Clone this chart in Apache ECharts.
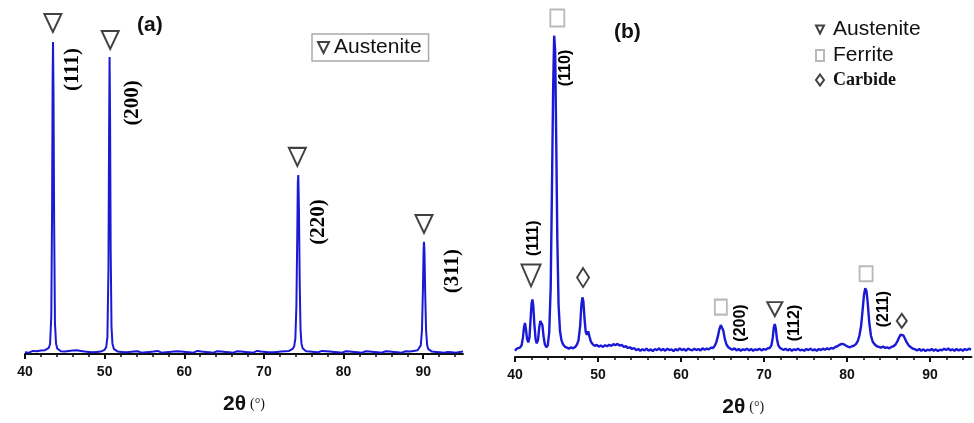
<!DOCTYPE html>
<html>
<head>
<meta charset="utf-8">
<script src="https://cdn.jsdelivr.net/npm/echarts@6/dist/echarts.min.js"></script>
<style>html,body{margin:0;padding:0;background:#fff}#c{width:974px;height:423px}</style>
</head>
<body>
<div id="c"></div>
<script>
// ---------- DATA ----------
const majorTicks = [40, 50, 60, 70, 80, 90];
const minorTicks = [42, 44, 46, 48, 52, 54, 56, 58, 62, 64, 66, 68, 72, 74, 76, 78, 82, 84, 86, 88, 92, 94];

// Panel (a): [2theta, intensity]
const specA = [
[40.0,5],[40.25,8],[40.5,4],[40.75,7],[41.0,9],[41.25,5],[41.5,8],[41.75,6],[42.0,10],[42.25,7],[42.5,11],[42.75,13],
[43.0,18],[43.15,30],[43.3,110],[43.4,420],[43.47,800],[43.52,907],[43.58,760],[43.66,380],[43.76,90],[43.9,30],[44.05,16],
[44.25,11],[44.5,8],[44.75,10],[45.0,7],[45.25,11],[45.5,9],[45.75,12],[46.0,10],[46.25,14],[46.5,11],[46.75,13],[47.0,9],
[47.25,11],[47.5,7],[47.75,9],[48.0,6],[48.25,8],[48.5,5],[48.75,9],[49.0,6],[49.25,8],[49.5,7],[49.75,10],[50.0,12],
[50.2,20],[50.35,50],[50.48,250],[50.56,650],[50.62,863],[50.68,700],[50.76,300],[50.86,80],[50.98,30],[51.15,15],[51.4,10],
[51.65,7],[51.9,9],[52.15,6],[52.4,8],[52.65,5],[52.9,8],[53.15,6],[53.4,4],[53.65,7],[53.9,5],[54.15,8],[54.4,6],[54.65,4],
[54.9,7],[55.15,5],[55.4,8],[55.65,6],[55.9,4],[56.15,7],[56.4,5],[56.65,9],[56.9,6],[57.15,4],[57.4,7],[57.65,5],[57.9,8],
[58.15,6],[58.4,4],[58.65,7],[58.9,5],[59.15,8],[59.4,5],[59.65,7],[59.9,4],[60.15,6],[60.4,8],[60.65,5],[60.9,7],[61.15,4],
[61.4,6],[61.65,9],[61.9,5],[62.15,7],[62.4,4],[62.65,6],[62.9,8],[63.15,5],[63.4,7],[63.65,4],[63.9,6],[64.15,8],[64.4,5],
[64.65,7],[64.9,4],[65.15,6],[65.4,9],[65.65,5],[65.9,7],[66.15,4],[66.4,6],[66.65,8],[66.9,5],[67.15,7],[67.4,4],[67.65,6],
[67.9,8],[68.15,5],[68.4,7],[68.65,4],[68.9,6],[69.15,9],[69.4,5],[69.65,7],[69.9,4],[70.15,6],[70.4,8],[70.65,5],[70.9,7],
[71.15,5],[71.4,8],[71.65,6],[71.9,9],[72.15,7],[72.4,10],[72.65,8],[72.9,11],[73.15,9],[73.4,12],[73.6,15],[73.8,22],
[73.95,45],[74.08,140],[74.18,330],[74.26,500],[74.32,520],[74.4,420],[74.5,200],[74.6,70],[74.72,30],[74.88,16],[75.05,11],
[75.3,8],[75.55,10],[75.8,7],[76.05,9],[76.3,6],[76.55,8],[76.8,5],[77.05,7],[77.3,9],[77.55,6],[77.8,8],[78.05,5],[78.3,7],
[78.55,4],[78.8,6],[79.05,8],[79.3,5],[79.55,7],[79.8,4],[80.05,6],[80.3,8],[80.55,5],[80.8,7],[81.05,4],[81.3,6],[81.55,9],
[81.8,5],[82.05,7],[82.3,4],[82.55,6],[82.8,8],[83.05,5],[83.3,7],[83.55,4],[83.8,6],[84.05,9],[84.3,5],[84.55,7],[84.8,4],
[85.05,6],[85.3,8],[85.55,5],[85.8,7],[86.05,4],[86.3,6],[86.55,9],[86.8,5],[87.05,7],[87.3,4],[87.55,6],[87.8,8],[88.05,5],
[88.3,7],[88.55,6],[88.8,9],[89.05,8],[89.3,11],[89.5,14],[89.7,25],[89.85,70],[89.97,190],[90.05,300],[90.1,326],[90.16,300],
[90.25,180],[90.36,70],[90.5,25],[90.65,14],[90.85,10],[91.1,7],[91.35,9],[91.6,6],[91.85,8],[92.1,5],[92.35,7],[92.6,4],
[92.85,8],[93.1,6],[93.35,9],[93.6,5],[93.85,7],[94.1,4],[94.35,8],[94.6,6],[94.85,9],[95.0,7]
];

// Panel (b): [2theta, intensity]
const specB = [
[40.0,18],[40.2,24],[40.4,20],[40.6,27],[40.8,34],[40.95,55],[41.08,85],[41.2,98],[41.32,80],[41.45,52],[41.6,42],[41.75,58],
[41.88,110],[42.0,155],[42.1,166],[42.2,148],[42.33,95],[42.48,52],[42.62,39],[42.78,50],[42.92,85],[43.05,104],[43.18,107],
[43.3,92],[43.45,58],[43.6,36],[43.78,28],[43.95,34],[44.12,70],[44.3,200],[44.45,480],[44.6,780],[44.72,926],[44.84,880],
[44.96,640],[45.1,340],[45.25,150],[45.42,75],[45.6,48],[45.8,36],[46.0,30],[46.25,27],[46.5,24],[46.75,28],[47.0,25],
[47.25,29],[47.45,35],[47.65,48],[47.85,90],[48.0,150],[48.12,172],[48.24,160],[48.38,110],[48.52,72],[48.66,64],[48.82,74],
[48.98,58],[49.15,44],[49.35,37],[49.6,32],[49.85,35],[50.1,30],[50.35,33],[50.6,29],[50.85,34],[51.1,31],[51.35,35],
[51.6,32],[51.85,37],[52.1,34],[52.35,38],[52.6,33],[52.85,35],[53.1,29],[53.35,31],[53.6,26],[53.85,28],[54.1,23],[54.35,26],
[54.6,20],[54.85,23],[55.1,18],[55.35,22],[55.6,19],[55.85,24],[56.1,18],[56.35,22],[56.6,17],[56.85,23],[57.1,20],[57.35,25],
[57.6,19],[57.85,23],[58.1,18],[58.35,24],[58.6,20],[58.85,22],[59.1,17],[59.35,23],[59.6,19],[59.85,25],[60.1,20],[60.35,23],
[60.6,18],[60.85,24],[61.1,21],[61.35,19],[61.6,24],[61.85,20],[62.1,23],[62.35,19],[62.6,25],[62.85,21],[63.1,24],[63.35,22],
[63.6,27],[63.85,26],[64.05,32],[64.25,42],[64.45,60],[64.62,80],[64.8,92],[64.95,90],[65.1,76],[65.28,52],[65.48,36],
[65.7,28],[65.95,24],[66.2,21],[66.45,25],[66.7,19],[66.95,23],[67.2,18],[67.45,22],[67.7,20],[67.95,24],[68.2,19],[68.45,23],
[68.7,18],[68.95,22],[69.2,20],[69.45,24],[69.7,19],[69.95,23],[70.2,21],[70.45,25],[70.7,26],[70.9,34],[71.05,55],[71.18,85],
[71.3,95],[71.42,82],[71.56,52],[71.72,34],[71.9,27],[72.1,23],[72.35,20],[72.6,24],[72.85,19],[73.1,23],[73.35,18],[73.6,22],
[73.85,20],[74.1,24],[74.35,19],[74.6,21],[74.85,18],[75.1,23],[75.35,20],[75.6,24],[75.85,19],[76.1,22],[76.35,18],[76.6,23],
[76.85,20],[77.1,24],[77.35,21],[77.6,25],[77.85,22],[78.1,26],[78.35,24],[78.6,29],[78.85,31],[79.1,35],[79.35,38],[79.6,37],
[79.85,33],[80.1,30],[80.35,28],[80.6,31],[80.85,33],[81.1,38],[81.3,46],[81.5,62],[81.7,90],[81.9,140],[82.05,180],[82.2,198],
[82.35,190],[82.5,155],[82.68,100],[82.88,62],[83.1,44],[83.35,36],[83.6,31],[83.85,29],[84.1,27],[84.35,30],[84.6,26],
[84.85,28],[85.1,25],[85.35,29],[85.6,31],[85.85,36],[86.05,44],[86.25,55],[86.45,64],[86.62,67],[86.8,62],[87.0,52],[87.2,42],
[87.45,33],[87.7,28],[87.95,24],[88.2,22],[88.45,19],[88.7,23],[88.95,18],[89.2,22],[89.45,17],[89.7,21],[89.95,19],[90.2,23],
[90.45,18],[90.7,22],[90.95,17],[91.2,21],[91.45,19],[91.7,24],[91.95,20],[92.2,25],[92.45,19],[92.7,22],[92.95,18],[93.2,23],
[93.45,19],[93.7,22],[93.95,18],[94.2,23],[94.45,20],[94.7,24],[94.95,21]
];

// Phase markers [2theta, height]
const austA = [[43.5,962],[50.7,913],[74.2,573],[90.1,378]];
const austB = [[41.93,235],[71.3,138]];
const ferB  = [[45.1,977],[64.8,144],[82.3,240]];
const carB  = [[48.2,229],[86.6,104]];
// hkl labels [2theta, height, text]
const hklA = [[45.97,827,'(111)'],[53.46,730,'(200)'],[76.9,384,'(220)'],[93.7,241,'(311)']];
const hklB = [[46.1,833,'(110)'],[42.2,342,'(111)'],[67.2,98,'(200)'],[73.7,98,'(112)'],[84.45,138,'(211)']];

// ---------- STYLE ----------
const BLUE = '#1a1ad6';
const TRI = 'path://M0,0L10,0L5,10Z';
const sizeAustA = [[17,18],[17,18],[17,18],[17,18]];
const sizeAustB = [[19,22],[15,14]];
const sizeFerB = [[14,17],[12,15],[13,15]];
const sizeCarB = [[12,19],[10,14]];
const SANS = 'Liberation Sans';
const SERIF = 'Liberation Serif';

function mainX(grid) {
  return {
    type: 'value', gridIndex: grid, position: 'bottom', min: 40, max: 95, interval: 10,
    axisLine: { show: true, lineStyle: { color: '#111', width: 2 } },
    axisTick: { show: true, inside: false, length: 5, customValues: majorTicks, lineStyle: { color: '#111', width: 2 } },
    axisLabel: { show: true, customValues: majorTicks, margin: 11,
      fontSize: 14, fontWeight: 'bold', fontFamily: SANS, color: '#111' },
    splitLine: { show: false },
    name: '{t|2θ} {u|(°)}', nameLocation: 'middle', nameGap: 40,
    nameTextStyle: { fontSize: 14, color: '#111', rich: {
      t: { fontSize: 21, fontWeight: 'bold', fontFamily: SANS, color: '#111' },
      u: { fontSize: 14, fontFamily: SERIF, color: '#111' } } }
  };
}
function minorX(grid) {
  return {
    type: 'value', gridIndex: grid, position: 'bottom', offset: 0, min: 40, max: 95, interval: 2,
    axisLine: { show: false, onZero: false },
    axisTick: { show: true, inside: false, length: 3, customValues: minorTicks, lineStyle: { color: '#111', width: 1.5 } },
    axisLabel: { show: false }, splitLine: { show: false }
  };
}
function yAx(grid) {
  return { type: 'value', gridIndex: grid, min: 0, max: 1000, show: false, splitLine: { show: false } };
}
function markerSeries(name, xi, yi, data, sizes, symbol, border) {
  return {
    name: name, type: 'scatter', xAxisIndex: xi, yAxisIndex: yi, data: data, clip: false,
    symbol: symbol, symbolKeepAspect: false,
    symbolSize: function (v, p) { return sizes[p.dataIndex]; },
    itemStyle: { color: 'rgba(255,255,255,0)', borderColor: border, borderWidth: 2 },
    z: 5, silent: true
  };
}
function hklSeries(xi, yi, data, font, size) {
  return {
    type: 'scatter', xAxisIndex: xi, yAxisIndex: yi, clip: false, silent: true,
    data: data, symbolSize: 0, itemStyle: { color: '#000', opacity: 1 },
    label: { show: true, position: 'inside', rotate: 90, formatter: function (p) { return p.data[2]; },
      fontFamily: font, fontWeight: 'bold', fontSize: size, color: '#000', opacity: 1,
      textBorderWidth: 0 },
    z: 6
  };
}

const chart = echarts.init(document.getElementById('c'), null, { renderer: 'canvas' });
chart.setOption({
  animation: false,
  backgroundColor: '#fff',
  grid: [
    { left: 25, right: 511, top: 10, bottom: 69 },
    { left: 515, right: 2.5, top: 10, bottom: 61.5 }
  ],
  xAxis: [mainX(0), minorX(0), mainX(1), minorX(1)],
  yAxis: [yAx(0), yAx(1)],
  legend: [
    { data: ['Austenite'], left: 312, top: 34, orient: 'horizontal',
      borderColor: '#aaa', borderWidth: 1.5, padding: [3, 7, 3, 5],
      itemWidth: 11, itemHeight: 13, selectedMode: false,
      textStyle: { fontSize: 21, fontFamily: SANS, color: '#111' } },
    { data: ['Austenite', 'Ferrite', { name: 'Carbide', textStyle: { fontFamily: SERIF, fontWeight: 'bold', fontSize: 18, color: '#111' } }],
      left: 810, top: 14, orient: 'vertical', itemGap: 5, selectedMode: false,
      itemWidth: 8, itemHeight: 11,
      textStyle: { fontSize: 21, fontFamily: SANS, color: '#111', padding: [0, 0, 0, 4] } }
  ],
  graphic: [
    { type: 'text', left: 137, top: 15, style: { text: '(a)', font: 'bold 21px "Liberation Sans"', fill: '#111' } },
    { type: 'text', left: 614, top: 22, style: { text: '(b)', font: 'bold 21px "Liberation Sans"', fill: '#111' } }
  ],
  series: [
    { type: 'line', xAxisIndex: 0, yAxisIndex: 0, data: specA, showSymbol: false, symbol: 'none',
      lineStyle: { color: BLUE, width: 2 }, silent: true, z: 3 },
    { type: 'line', xAxisIndex: 2, yAxisIndex: 1, data: specB, showSymbol: false, symbol: 'none',
      lineStyle: { color: BLUE, width: 2.4 }, silent: true, z: 3 },
    markerSeries('Austenite', 0, 0, austA, sizeAustA, TRI, '#111'),
    markerSeries('Austenite', 2, 1, austB, sizeAustB, TRI, '#111'),
    markerSeries('Ferrite', 2, 1, ferB, sizeFerB, 'rect', '#a8a8a8'),
    markerSeries('Carbide', 2, 1, carB, sizeCarB, 'diamond', '#111'),
    hklSeries(0, 0, hklA, SERIF, 21),
    hklSeries(2, 1, hklB, SANS, 16)
  ]
});
</script>
</body>
</html>
